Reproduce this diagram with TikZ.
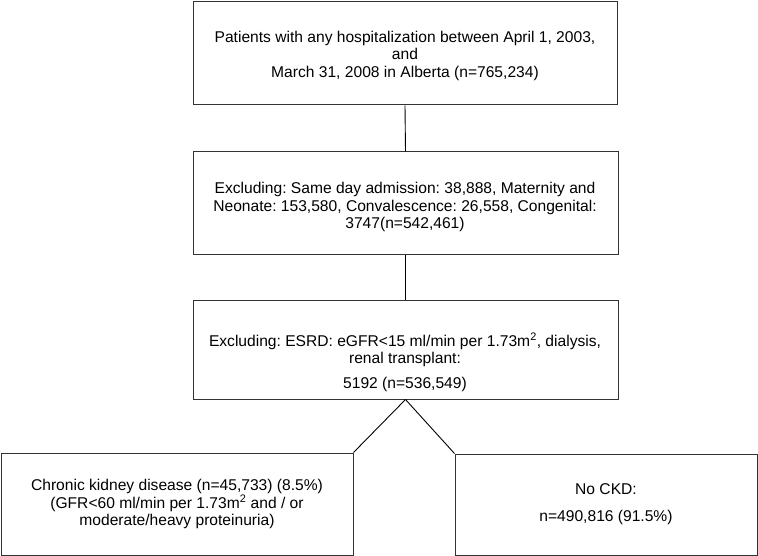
\documentclass[tikz,border=0pt]{standalone}
\usepackage{fontspec}
\setmainfont{Liberation Sans}
\frenchspacing
\begin{document}
\begin{tikzpicture}[x=1pt,y=-1pt,
  box/.style={draw=black!80,line width=1pt,rectangle,inner sep=0pt},
  txt/.style={align=center,inner sep=0pt,font=\fontsize{15.6}{17.5}\selectfont},
  conn/.style={draw=black,line width=0.9pt}]
\useasboundingbox (0,0) rectangle (758,556);
\node[box,minimum width=424pt,minimum height=103pt] (b1) at (405,53.5) {};
\node[box,minimum width=425pt,minimum height=103pt] (b2) at (405.5,203.5) {};
\node[box,minimum width=425pt,minimum height=99pt] (b3) at (405.5,349.5) {};
\node[box,minimum width=352pt,minimum height=102pt] (b4) at (177,504) {};
\node[box,minimum width=302pt,minimum height=101pt] (b5) at (606,504.5) {};
\node[txt] (t1) at (405,55.5) {Patients with any hospitalization between April 1, 2003,\\ and\\ March 31, 2008 in Alberta (n=765,234)};
\node[txt] (t2) at (405,207) {Excluding: Same day admission: 38,888, Maternity and\\ Neonate: 153,580, Convalescence: 26,558, Congenital:\\ 3747(n=542,461)};
\node[txt] (t3) at (405,362.5) {Excluding: ESRD: eGFR<15 ml/min per 1.73m\textsuperscript{2}, dialysis,\\ renal transplant:\\[7.5pt] 5192 (n=536,549)};
\node[txt] (t4) at (177,504) {Chronic kidney disease (n=45,733) (8.5\%)\\ (GFR<60 ml/min per 1.73m\textsuperscript{2} and / or\\ moderate/heavy proteinuria)};
\node[txt] (t5) at (606,504) {No CKD:\\[9.5pt] n=490,816 (91.5\%)};
\draw[conn] (b1.south) -- (b2.north);
\draw[conn] (b2.south) -- (b3.north);
\draw[conn] (b3.south) -- (b4.north east);
\draw[conn] (b3.south) -- (b5.north west);
\end{tikzpicture}
\end{document}
